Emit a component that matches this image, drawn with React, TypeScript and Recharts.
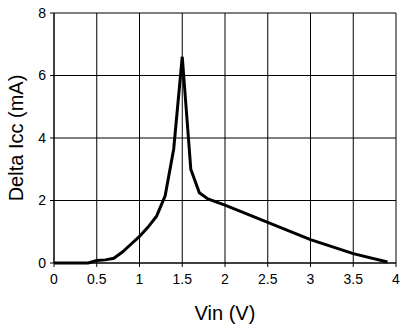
import { CartesianGrid, Line, LineChart, XAxis, YAxis } from 'recharts';

const vin = [0, 0.4, 0.5, 0.6, 0.7, 0.8, 0.9, 1.0, 1.1, 1.2, 1.3, 1.4, 1.5, 1.6, 1.7, 1.8, 2.0, 2.5, 3.0, 3.5, 3.9];
const deltaIcc = [0, 0, 0.08, 0.1, 0.15, 0.35, 0.6, 0.85, 1.15, 1.5, 2.15, 3.65, 6.6, 3.0, 2.25, 2.05, 1.85, 1.3, 0.75, 0.3, 0.03];
const xTicks = [0, 0.5, 1, 1.5, 2, 2.5, 3, 3.5, 4];
const yTicks = [0, 2, 4, 6, 8];

const data = vin.map((v, i) => ({ v, icc: deltaIcc[i] }));

const FONT = '"Liberation Sans", Arial, Helvetica, sans-serif';

function YLabel({ viewBox }: any) {
  const cx = viewBox.x + 16;
  const cy = viewBox.y + viewBox.height / 2;
  return (
    <text
      x={cx}
      y={cy}
      transform={`rotate(-90, ${cx}, ${cy})`}
      textAnchor="middle"
      dominantBaseline="central"
      fontSize={20}
      fontFamily={FONT}
      fill="#000"
    >
      Delta Icc (mA)
    </text>
  );
}

export default function App() {
  return (
    <div style={{ position: 'absolute', left: 0, top: 0, background: '#fff' }}>
      <LineChart
        width={406}
        height={327}
        data={data}
        margin={{ top: 13, right: 10, left: 0, bottom: 0 }}
        style={{ fontFamily: FONT }}
      >
        <CartesianGrid stroke="#000" strokeWidth={1} />
        <XAxis
          dataKey="v"
          type="number"
          domain={[0, 4]}
          ticks={xTicks}
          height={64}
          tickSize={4}
          tickMargin={7}
          axisLine={{ stroke: '#000' }}
          tickLine={{ stroke: '#000' }}
          tick={{ fill: '#000', fontSize: 14 }}
          label={{ value: 'Vin (V)', position: 'insideBottom', offset: 7, fill: '#000', fontSize: 20 }}
        />
        <YAxis
          type="number"
          domain={[0, 8]}
          ticks={yTicks}
          width={54}
          tickSize={4}
          tickMargin={4}
          axisLine={{ stroke: '#000' }}
          tickLine={{ stroke: '#000' }}
          tick={{ fill: '#000', fontSize: 14 }}
          label={<YLabel />}
        />
        <Line
          dataKey="icc"
          type="linear"
          stroke="#000"
          strokeWidth={3}
          dot={false}
          isAnimationActive={false}
        />
      </LineChart>
    </div>
  );
}
